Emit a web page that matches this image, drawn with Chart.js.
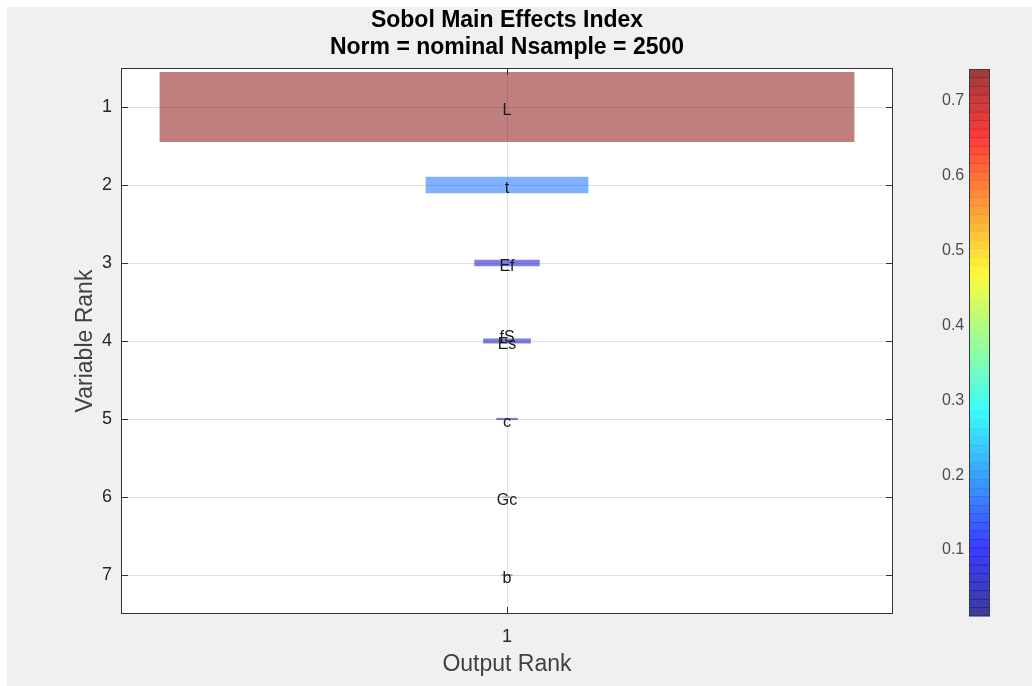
<!DOCTYPE html>
<html>
<head>
<meta charset="utf-8">
<script src="https://cdn.jsdelivr.net/npm/chart.js@4.4.0/dist/chart.umd.min.js"></script>
<style>
  html, body { margin:0; background:#fff; }
  #wrap { position:absolute; left:7px; top:7px; width:1025px; height:679px; background:#f0f0f0; }
</style>
</head>
<body>
<div id="wrap"><canvas id="sobolChart" width="1025" height="679"></canvas></div>
<script>
// data
const ranks = ['1','2','3','4','5','6','7'];
const varNames = ['L','t','Ef','Es','c','Gc','b'];
const mainEffect = [0.743, 0.174, 0.070, 0.051, 0.023, 0.009, 0.012];
// extra variable tied at rank 4 (its label overlaps)
const tieNames = ['fS'];
const tieRanks = [4];
const xTicks = [1];
const cbTicks = [0.1, 0.2, 0.3, 0.4, 0.5, 0.6, 0.7];
const colorMin = 0.012, colorMax = 0.743;

const FONT = '"Liberation Sans", Arial, sans-serif';
Chart.defaults.font.family = FONT;

// matlab jet colormap
function jet(t, a){
  t = Math.max(0, Math.min(1, t));
  const c = v => Math.round(255*Math.max(0, Math.min(1, v)));
  const r = c(1.5 - Math.abs(4*t - 3)), g = c(1.5 - Math.abs(4*t - 2)), b = c(1.5 - Math.abs(4*t - 1));
  return `rgba(${r},${g},${b},${a})`;
}

const vmax = Math.max(...mainEffect);
const datasets = mainEffect.map((v,i)=>({
  label: varNames[i],
  data: ranks.map((r,j)=> j===i ? [1 - 0.45*v/vmax, 1 + 0.45*v/vmax] : null),
  backgroundColor: jet((v-colorMin)/(colorMax-colorMin), 0.5),
  borderWidth: 0,
  barPercentage: 0.9*v/vmax,
  categoryPercentage: 1,
  grouped: false
}));

// white axes background, axes box, inward ticks, variable names, title, colorbar
const boxPlugin = {
  id:'box',
  beforeDraw(chart){
    const {ctx, chartArea:a} = chart;
    ctx.save();
    ctx.fillStyle = '#fff';
    ctx.fillRect(a.left, a.top, a.right-a.left, a.bottom-a.top);
    ctx.restore();
  },
  afterDatasetsDraw(chart){
    const {ctx, chartArea:a, scales} = chart;
    ctx.save();
    ctx.font = '16px ' + FONT;
    ctx.fillStyle = '#1a1a1a';
    ctx.textAlign = 'center'; ctx.textBaseline = 'middle';
    const cx = scales.x.getPixelForValue(1);
    varNames.forEach((n,i)=> ctx.fillText(n, cx, scales.y.getPixelForValue(i) + 4));
    tieNames.forEach((n,i)=> ctx.fillText(n, cx, scales.y.getPixelForValue(tieRanks[i]-1) - 3));

    ctx.strokeStyle = '#333'; ctx.lineWidth = 1;
    ctx.strokeRect(a.left+0.5, a.top+0.5, a.right-a.left-1, a.bottom-a.top-1);
    ctx.beginPath();
    ranks.forEach((r,i)=>{
      const y = Math.round(scales.y.getPixelForValue(i)) + 0.5;
      ctx.moveTo(a.left, y); ctx.lineTo(a.left+7, y);
      ctx.moveTo(a.right, y); ctx.lineTo(a.right-7, y);
    });
    xTicks.forEach(v=>{
      const x = Math.round(scales.x.getPixelForValue(v)) + 0.5;
      ctx.moveTo(x, a.top); ctx.lineTo(x, a.top+7);
      ctx.moveTo(x, a.bottom); ctx.lineTo(x, a.bottom-7);
    });
    ctx.stroke();
    ctx.restore();
  },
  afterDraw(chart){
    const {ctx, chartArea:a} = chart;
    ctx.save();
    // title
    ctx.font = 'bold 23px ' + FONT;
    ctx.fillStyle = '#000';
    ctx.textAlign = 'center'; ctx.textBaseline = 'middle';
    const cx = (a.left + a.right)/2;
    ctx.fillText('Sobol Main Effects Index', cx, 14);
    ctx.fillText('Norm = nominal Nsample = 2500', cx, 41);
    // colorbar
    const x0 = 962, w = 21, top = a.top + 1, bot = a.bottom + 2, n = 64;
    const h = (bot - top)/n;
    for(let k=0;k<n;k++){
      ctx.fillStyle = jet((k+0.5)/n, 0.75);
      ctx.fillRect(x0, bot - (k+1)*h, w, h+0.6);
    }
    ctx.strokeStyle = '#3a3a3a';
    ctx.strokeRect(x0+0.5, top+0.5, w-1, bot-top-1);
    ctx.restore();
  }
};

new Chart(document.getElementById('sobolChart'), {
  type:'bar',
  data:{ labels: ranks, datasets },
  options:{
    indexAxis:'y',
    responsive:false,
    animation:false,
    layout:{ padding:{ top:61, left:0, right:0, bottom:0 } },
    plugins:{ legend:{display:false}, title:{display:false}, tooltip:{enabled:false} },
    scales:{
      x:{
        type:'linear', min:0.5, max:1.5,
        afterBuildTicks: s => { s.ticks = xTicks.map(v=>({value:v})); },
        grid:{ color:'#e0e0e0', drawTicks:false },
        border:{ display:false },
        ticks:{ padding:12, color:'#262626', font:{size:18}, callback: v => String(v) },
        title:{ display:true, text:'Output Rank', color:'#404040', font:{size:23}, padding:{top:4, bottom:8} },
        afterFit: s => { s.height = 72; }
      },
      y:{
        type:'category', offset:true,
        grid:{ offset:false, color:'#e0e0e0', drawTicks:false },
        border:{ display:false },
        ticks:{ padding:9, color:'#262626', font:{size:18} },
        title:{ display:true, text:'Variable Rank', color:'#404040', font:{size:23}, padding:{top:65, bottom:0} },
        afterFit: s => { s.width = 114; }
      },
      cb:{
        type:'linear', position:'right', min:0.0144, max:0.744, offset:false,
        afterBuildTicks: s => { s.ticks = cbTicks.map(v=>({value:v})); },
        grid:{ display:false, drawTicks:false },
        border:{ display:false },
        ticks:{ padding:49, color:'#4d4d4d', font:{size:16}, callback: v => v.toFixed(1) },
        afterFit: s => { s.width = 139; }
      }
    }
  },
  plugins:[boxPlugin]
});
</script>
</body>
</html>
